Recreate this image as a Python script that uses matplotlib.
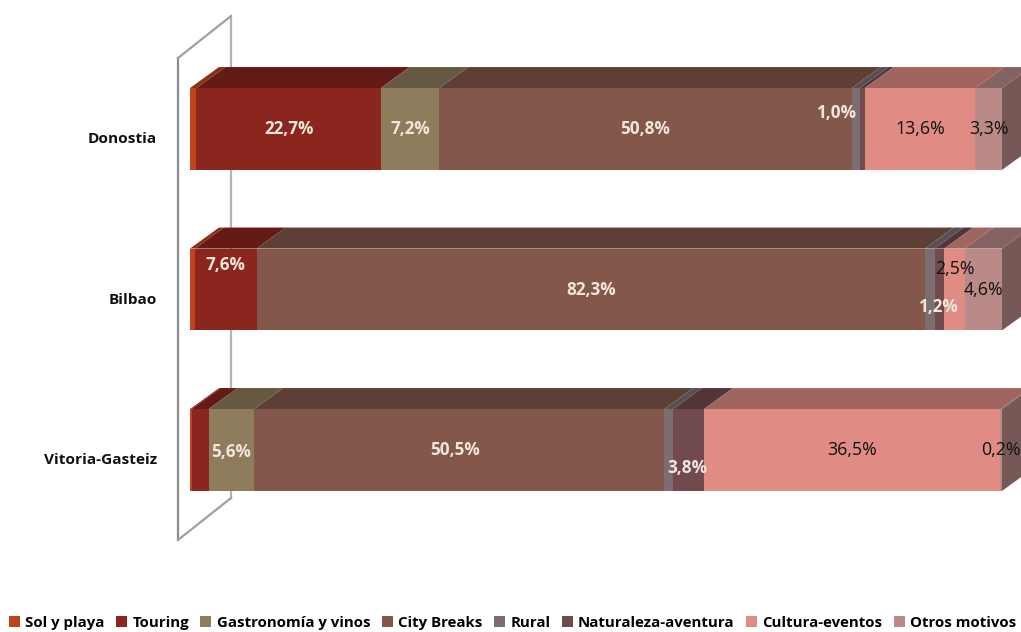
import matplotlib.pyplot as plt
from matplotlib.patches import Polygon, Patch
from matplotlib.colors import to_rgb

plt.rcParams["font.family"] = ["Open Sans", "DejaVu Sans"]

cities = ["Donostia", "Bilbao", "Vitoria-Gasteiz"]
motivos = [
    "Sol y playa",
    "Touring",
    "Gastronomía y vinos",
    "City Breaks",
    "Rural",
    "Naturaleza-aventura",
    "Cultura-eventos",
    "Otros motivos",
]
donostia = [0.8, 22.7, 7.2, 50.8, 1.0, 0.6, 13.6, 3.3]
bilbao = [0.6, 7.6, 0.0, 82.3, 1.2, 1.2, 2.5, 4.6]
vitoria = [0.2, 2.1, 5.6, 50.5, 1.1, 3.8, 36.5, 0.2]
series = [donostia, bilbao, vitoria]

colors = [
    "#C0441A", "#8B261E", "#8E7C5C", "#835749",
    "#7C6E70", "#704A4C", "#E08C84", "#B98A88",
]

# which segments carry a label: (segment, dx, dy, ha)
label_spots = [
    [(1, 0, 0, "center"), (2, 0, 0, "center"), (3, 0, 0, "center"),
     (4, 0, -0.10, "right"), (6, 0, 0, "center"), (7, 0, 0, "center")],
    [(1, 0, -0.155, "center"), (3, 0, 0, "center"), (4, 1.0, 0.11, "center"),
     (6, 0, -0.125, "center"), (7, 0, 0, "center")],
    [(2, 0, 0.01, "center"), (3, -0.5, 0, "center"), (5, -0.2, 0.11, "center"),
     (6, 0, 0, "center"), (7, 0, 0, "center")],
]


def shade(c, f):
    r, g, b = to_rgb(c)
    return (r * f, g * f, b * f)


W, H = 1021, 632
fig = plt.figure(figsize=(W / 100, H / 100), dpi=100)
ax = fig.add_axes([190 / W, 1 - 530.25 / H, 812 / W, 481.5 / H])
ax.set_xlim(0, 100)
ax.set_ylim(2.5, -0.5)
ax.axis("off")

bar_h = 0.51
dx, dy = 3.57, 0.131  # depth of the bars

# walls of the 3d box
wall_x, wall_top, wall_bot = -1.48, -0.442, 2.561
wdx, wdy = 6.53, 0.262
ax.plot([wall_x, wall_x], [wall_top, wall_bot], color="#8C8C8C", lw=1.6,
        clip_on=False, zorder=1)
ax.plot([wall_x + wdx, wall_x + wdx], [wall_top - wdy, wall_bot - wdy],
        color="#B4B4B4", lw=1.6, clip_on=False, zorder=1)
ax.plot([wall_x, wall_x + wdx], [wall_top, wall_top - wdy], color="#A0A0A0",
        lw=1.6, clip_on=False, zorder=1)
ax.plot([wall_x, wall_x + wdx], [wall_bot, wall_bot - wdy], color="#A0A0A0",
        lw=1.6, clip_on=False, zorder=1)

for i, vals in enumerate(series):
    left = 0
    top = i - bar_h / 2
    bot = i + bar_h / 2
    lefts = []
    for j, v in enumerate(vals):
        lefts.append(left)
        if v > 0:
            ax.barh(i, v, left=left, height=bar_h, color=colors[j],
                    edgecolor="none", zorder=3, clip_on=False)
            ax.add_patch(Polygon(
                [(left, top), (left + v, top), (left + v + dx, top - dy),
                 (left + dx, top - dy)],
                closed=True, facecolor=shade(colors[j], 0.72),
                edgecolor="none", zorder=2, clip_on=False))
            last = j
        left += v
    ax.add_patch(Polygon(
        [(left, top), (left + dx, top - dy), (left + dx, bot - dy), (left, bot)],
        closed=True, facecolor=shade(colors[last], 0.64), edgecolor="none",
        zorder=2, clip_on=False))

    for j, ddx, ddy, ha in label_spots[i]:
        v = vals[j]
        x = lefts[j] + v / 2 + ddx
        txt = f"{v:.1f}".replace(".", ",") + "%"
        if j >= 6:
            ax.text(x, i + ddy, txt, ha=ha, va="center", fontsize=12.8,
                    color="#111111", zorder=5, clip_on=False)
        else:
            ax.text(x, i + ddy, txt, ha=ha, va="center", fontsize=12.3,
                    fontweight="bold", color="#F0E6DC", zorder=5, clip_on=False)

    ax.text(-4.06, i + 0.065, cities[i], ha="right", va="center",
            fontsize=11.1, fontweight="bold", color="#111111")

handles = [Patch(facecolor=c, edgecolor="none") for c in colors]
fig.legend(handles, motivos, loc="center", bbox_to_anchor=(0.502, 0.014),
           ncol=8, frameon=False, handlelength=0.75, handleheight=0.75,
           handletextpad=0.35, columnspacing=0.75,
           prop=dict(weight="bold", size=10.8))

fig.savefig("out.png", dpi=100)
